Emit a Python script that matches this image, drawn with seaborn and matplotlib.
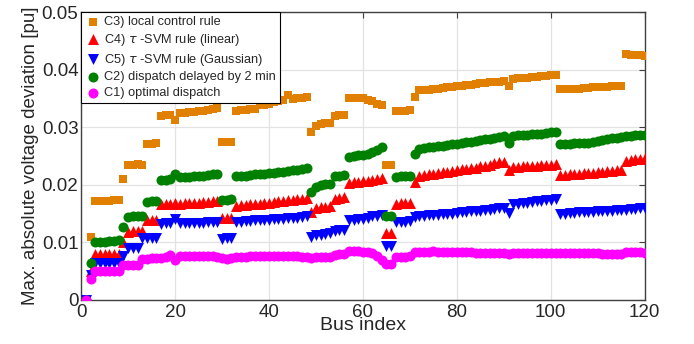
import numpy as np
import pandas as pd
import seaborn as sns
import matplotlib
matplotlib.use("Agg")
import matplotlib.pyplot as plt

##########
###Data###
##########
bus = np.arange(1, 121)

c3_local = [
    0.0, 0.0110, 0.0171, 0.0171, 0.0172, 0.0172, 0.0173, 0.0174, 0.0210, 0.0235,
    0.0235, 0.0236, 0.0235, 0.0271, 0.0271, 0.0272, 0.0320, 0.0321, 0.0321, 0.0313,
    0.0324, 0.0325, 0.0326, 0.0327, 0.0328, 0.0329, 0.0330, 0.0331, 0.0333, 0.0274,
    0.0275, 0.0275, 0.0329, 0.0330, 0.0330, 0.0331, 0.0331, 0.0338, 0.0339, 0.0340,
    0.0344, 0.0345, 0.0347, 0.0356, 0.0349, 0.0350, 0.0351, 0.0352, 0.0292, 0.0302,
    0.0306, 0.0307, 0.0308, 0.0320, 0.0321, 0.0322, 0.0350, 0.0350, 0.0351, 0.0350,
    0.0347, 0.0346, 0.0340, 0.0338, 0.0234, 0.0234, 0.0329, 0.0329, 0.0329, 0.0330,
    0.0353, 0.0364, 0.0365, 0.0365, 0.0366, 0.0367, 0.0368, 0.0369, 0.0370, 0.0371,
    0.0372, 0.0373, 0.0374, 0.0375, 0.0376, 0.0377, 0.0378, 0.0379, 0.0379, 0.0380,
    0.0372, 0.0384, 0.0385, 0.0386, 0.0386, 0.0387, 0.0388, 0.0389, 0.0389, 0.0390,
    0.0391, 0.0366, 0.0366, 0.0367, 0.0367, 0.0367, 0.0368, 0.0368, 0.0369, 0.0369,
    0.0370, 0.0370, 0.0371, 0.0371, 0.0372, 0.0427, 0.0426, 0.0425, 0.0425, 0.0424,
]

c4_svm_linear = [
    0.0, 0.0050, 0.0079, 0.0079, 0.0079, 0.0080, 0.0080, 0.0080, 0.0100, 0.0118,
    0.0119, 0.0119, 0.0120, 0.0138, 0.0139, 0.0139, 0.0166, 0.0167, 0.0167, 0.0168,
    0.0167, 0.0168, 0.0168, 0.0169, 0.0169, 0.0170, 0.0170, 0.0171, 0.0172, 0.0142,
    0.0142, 0.0143, 0.0164, 0.0165, 0.0165, 0.0166, 0.0167, 0.0167, 0.0168, 0.0169,
    0.0170, 0.0171, 0.0172, 0.0173, 0.0174, 0.0175, 0.0176, 0.0177, 0.0153, 0.0160,
    0.0161, 0.0162, 0.0163, 0.0176, 0.0177, 0.0178, 0.0203, 0.0204, 0.0205, 0.0206,
    0.0207, 0.0208, 0.0210, 0.0212, 0.0116, 0.0116, 0.0167, 0.0168, 0.0168, 0.0169,
    0.0205, 0.0216, 0.0217, 0.0218, 0.0219, 0.0221, 0.0222, 0.0223, 0.0224, 0.0225,
    0.0227, 0.0228, 0.0229, 0.0230, 0.0232, 0.0233, 0.0235, 0.0237, 0.0239, 0.0240,
    0.0226, 0.0231, 0.0231, 0.0232, 0.0232, 0.0233, 0.0233, 0.0234, 0.0234, 0.0235,
    0.0236, 0.0217, 0.0217, 0.0218, 0.0218, 0.0219, 0.0220, 0.0220, 0.0221, 0.0222,
    0.0223, 0.0224, 0.0224, 0.0225, 0.0226, 0.0242, 0.0243, 0.0244, 0.0245, 0.0246,
]

c5_svm_gauss = [
    0.0, 0.0043, 0.0064, 0.0064, 0.0064, 0.0065, 0.0065, 0.0065, 0.0076, 0.0090,
    0.0091, 0.0091, 0.0107, 0.0108, 0.0108, 0.0108, 0.0132, 0.0133, 0.0133, 0.0141,
    0.0133, 0.0133, 0.0134, 0.0134, 0.0134, 0.0134, 0.0135, 0.0135, 0.0135, 0.0106,
    0.0107, 0.0107, 0.0136, 0.0136, 0.0137, 0.0137, 0.0138, 0.0138, 0.0139, 0.0139,
    0.0140, 0.0141, 0.0141, 0.0142, 0.0143, 0.0143, 0.0144, 0.0145, 0.0110, 0.0112,
    0.0113, 0.0114, 0.0116, 0.0120, 0.0121, 0.0122, 0.0138, 0.0139, 0.0140, 0.0141,
    0.0143, 0.0145, 0.0146, 0.0147, 0.0093, 0.0093, 0.0135, 0.0136, 0.0136, 0.0137,
    0.0144, 0.0145, 0.0146, 0.0147, 0.0147, 0.0148, 0.0149, 0.0150, 0.0150, 0.0151,
    0.0152, 0.0153, 0.0154, 0.0155, 0.0155, 0.0156, 0.0157, 0.0158, 0.0159, 0.0160,
    0.0151, 0.0166, 0.0167, 0.0168, 0.0169, 0.0170, 0.0171, 0.0172, 0.0173, 0.0174,
    0.0176, 0.0150, 0.0150, 0.0151, 0.0151, 0.0152, 0.0152, 0.0153, 0.0153, 0.0154,
    0.0154, 0.0155, 0.0155, 0.0156, 0.0156, 0.0157, 0.0158, 0.0158, 0.0159, 0.0160,
]

c2_delayed = [
    0.0, 0.0064, 0.0100, 0.0101, 0.0101, 0.0102, 0.0103, 0.0104, 0.0126, 0.0144,
    0.0145, 0.0145, 0.0146, 0.0170, 0.0171, 0.0172, 0.0209, 0.0209, 0.0210, 0.0218,
    0.0213, 0.0213, 0.0214, 0.0215, 0.0215, 0.0216, 0.0217, 0.0218, 0.0219, 0.0174,
    0.0174, 0.0175, 0.0215, 0.0216, 0.0216, 0.0217, 0.0218, 0.0218, 0.0219, 0.0220,
    0.0221, 0.0222, 0.0223, 0.0224, 0.0225, 0.0226, 0.0227, 0.0229, 0.0188, 0.0197,
    0.0200, 0.0201, 0.0202, 0.0215, 0.0216, 0.0217, 0.0249, 0.0250, 0.0251, 0.0252,
    0.0254, 0.0257, 0.0261, 0.0266, 0.0146, 0.0146, 0.0214, 0.0215, 0.0215, 0.0216,
    0.0253, 0.0263, 0.0264, 0.0265, 0.0266, 0.0267, 0.0268, 0.0269, 0.0270, 0.0271,
    0.0273, 0.0274, 0.0275, 0.0276, 0.0278, 0.0279, 0.0280, 0.0281, 0.0283, 0.0284,
    0.0273, 0.0285, 0.0286, 0.0287, 0.0287, 0.0288, 0.0289, 0.0289, 0.0290, 0.0291,
    0.0291, 0.0270, 0.0271, 0.0271, 0.0272, 0.0272, 0.0273, 0.0273, 0.0274, 0.0276,
    0.0278, 0.0279, 0.0281, 0.0282, 0.0283, 0.0284, 0.0285, 0.0286, 0.0286, 0.0287,
]

c1_optimal = [
    0.0, 0.0037, 0.0051, 0.0051, 0.0051, 0.0051, 0.0051, 0.0051, 0.0061, 0.0061,
    0.0061, 0.0061, 0.0072, 0.0072, 0.0073, 0.0073, 0.0073, 0.0074, 0.0078, 0.0070,
    0.0076, 0.0076, 0.0076, 0.0076, 0.0076, 0.0076, 0.0076, 0.0076, 0.0075, 0.0073,
    0.0072, 0.0073, 0.0075, 0.0075, 0.0075, 0.0076, 0.0076, 0.0076, 0.0076, 0.0076,
    0.0076, 0.0076, 0.0076, 0.0076, 0.0076, 0.0076, 0.0075, 0.0074, 0.0073, 0.0074,
    0.0075, 0.0075, 0.0075, 0.0078, 0.0079, 0.0080, 0.0085, 0.0085, 0.0085, 0.0084,
    0.0083, 0.0081, 0.0077, 0.0070, 0.0062, 0.0062, 0.0075, 0.0075, 0.0075, 0.0076,
    0.0083, 0.0084, 0.0084, 0.0084, 0.0085, 0.0084, 0.0084, 0.0084, 0.0083, 0.0083,
    0.0083, 0.0083, 0.0083, 0.0082, 0.0082, 0.0082, 0.0082, 0.0082, 0.0081, 0.0081,
    0.0080, 0.0081, 0.0081, 0.0081, 0.0081, 0.0081, 0.0081, 0.0081, 0.0081, 0.0081,
    0.0081, 0.0081, 0.0081, 0.0081, 0.0081, 0.0081, 0.0081, 0.0081, 0.0081, 0.0081,
    0.0080, 0.0080, 0.0080, 0.0080, 0.0080, 0.0083, 0.0083, 0.0083, 0.0083, 0.0082,
]

labels = [
    "C3) local control rule",
    r"C4) $\tau$ -SVM rule (linear)",
    r"C5) $\tau$ -SVM rule (Gaussian)",
    "C2) dispatch delayed by 2 min",
    "C1) optimal dispatch",
]
series = [c3_local, c4_svm_linear, c5_svm_gauss, c2_delayed, c1_optimal]
colors = ["#E07F00", "#FF0000", "#0000FF", "#008000", "#FF00FF"]
markers = ["s", "^", "v", "o", "o"]
sizes = [34, 62, 62, 52, 52]

xticks = [0, 20, 40, 60, 80, 100, 120]
yticks = [0, 0.01, 0.02, 0.03, 0.04, 0.05]
ytick_labels = ["0", "0.01", "0.02", "0.03", "0.04", "0.05"]

###########
###Style###
###########
sns.set_theme(style="whitegrid")
plt.rcParams["font.family"] = ["Liberation Sans", "DejaVu Sans"]

fig = plt.figure(figsize=(6.94, 3.44), dpi=100)
ax = fig.add_axes([0.117, 0.128, 0.812, 0.837])

for vals, lab, col, mk, sz in zip(series, labels, colors, markers, sizes):
    df = pd.DataFrame({"bus": bus, "dev": vals})
    sns.scatterplot(data=df, x="bus", y="dev", ax=ax, color=col, marker=mk,
                    s=sz, linewidth=0, label=lab, zorder=3)

ax.set_xlim(0, 120)
ax.set_ylim(0, 0.05)
ax.set_xticks(xticks)
ax.set_yticks(yticks)
ax.set_yticklabels(ytick_labels)
ax.tick_params(direction="in", top=True, right=True, length=4, width=0.8,
               color="#404040", labelcolor="#262626", labelsize=13.5, pad=2)
ax.tick_params(axis="x", pad=3)
for sp in ax.spines.values():
    sp.set_color("#404040")
    sp.set_linewidth(1.0)
ax.set_axisbelow(True)
ax.grid(True, color="#e3e3e3", linewidth=0.9)

ax.set_xlabel("Bus index", fontsize=14, color="#262626", labelpad=-3)
ax.set_ylabel("Max. absolute voltage deviation [pu]", fontsize=13.5,
              color="#262626", labelpad=2)

leg = ax.legend(loc="upper left", borderaxespad=0, fontsize=9.2, frameon=True,
                fancybox=False, edgecolor="black", framealpha=1,
                handletextpad=0.3, labelspacing=0.3, borderpad=0.3,
                handlelength=1.2)
leg.get_frame().set_linewidth(0.8)

plt.savefig("out.png", dpi=100)
